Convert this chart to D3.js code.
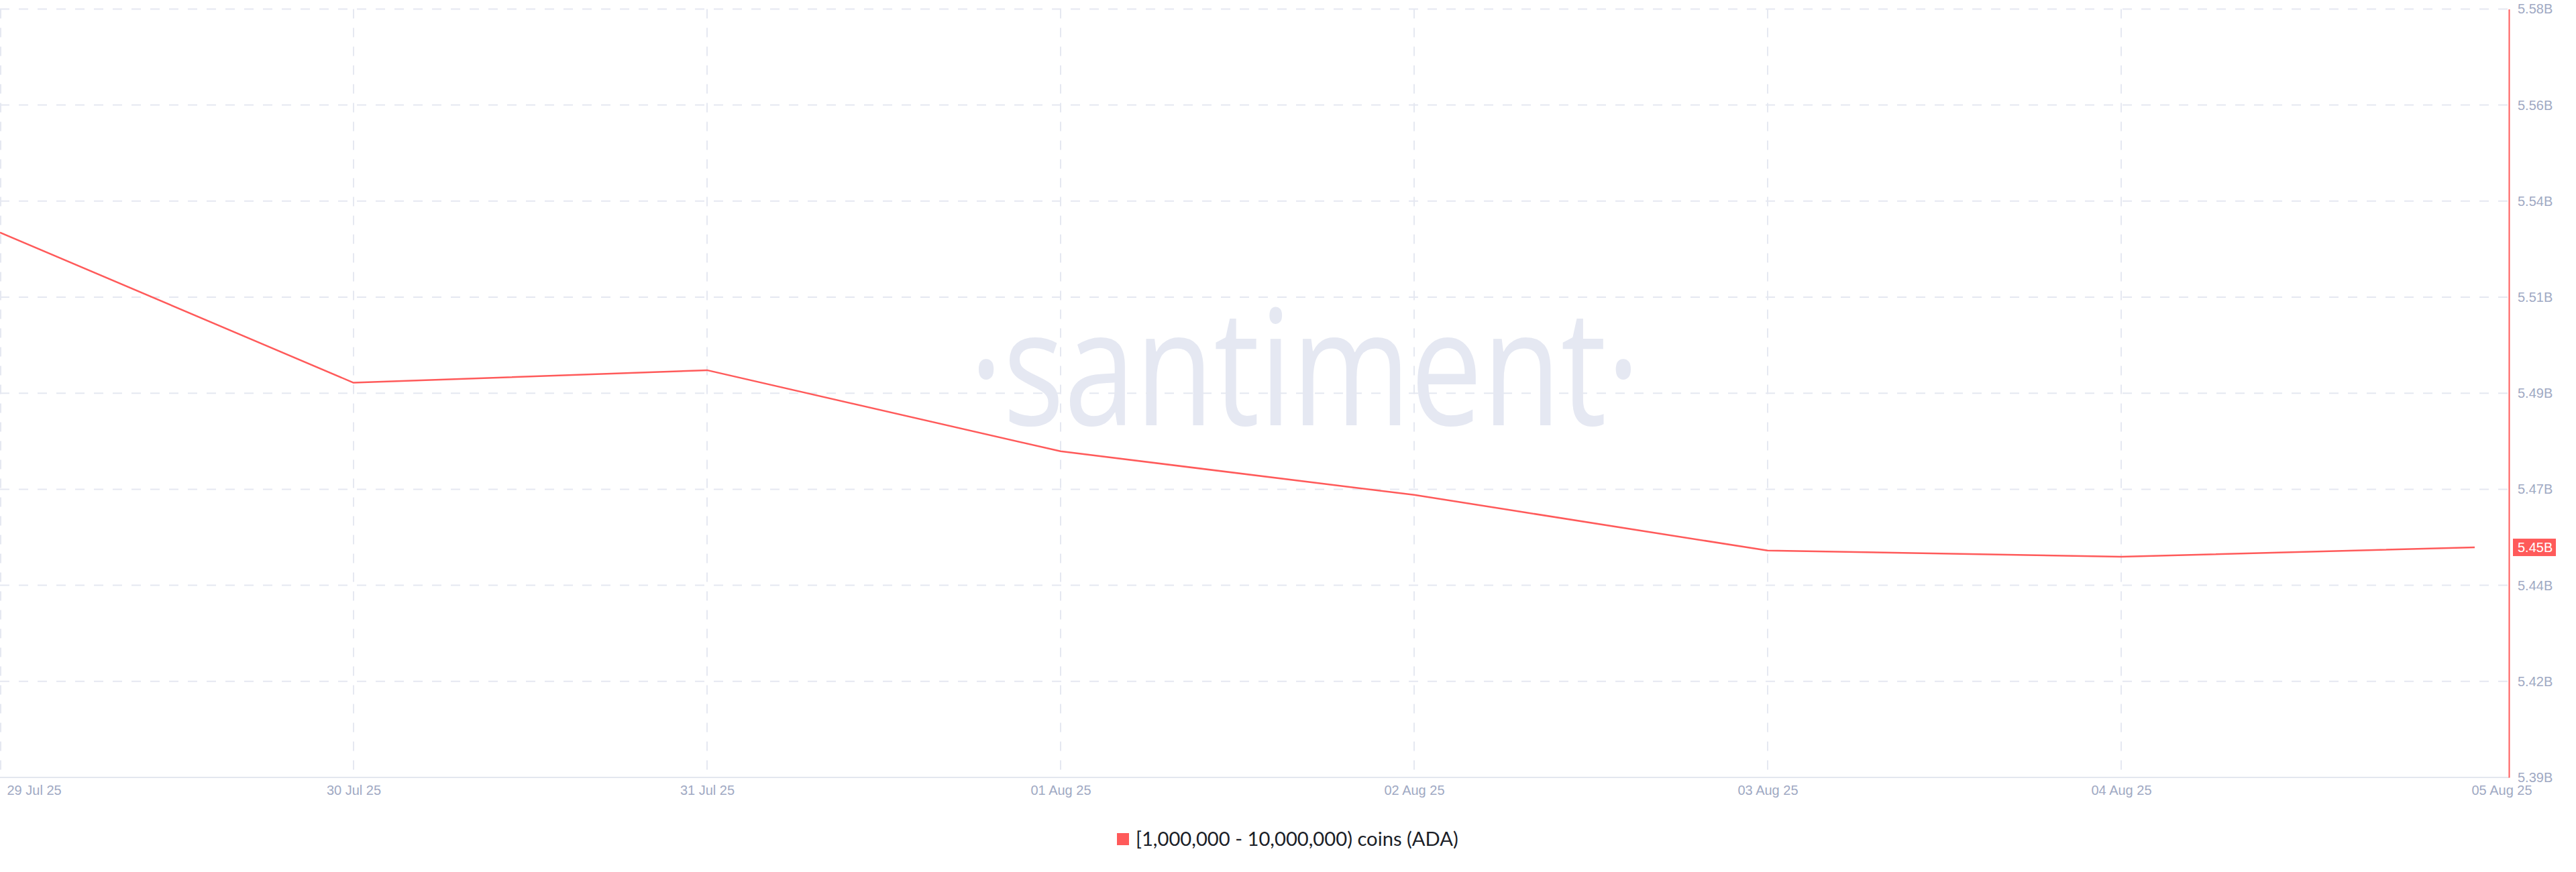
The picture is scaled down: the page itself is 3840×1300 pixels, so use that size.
<!DOCTYPE html>
<html><head><meta charset="utf-8">
<script src="https://cdn.jsdelivr.net/npm/d3@7"></script>
<style>html,body{margin:0;padding:0;background:#fff;} svg{display:block;}</style>
</head><body>
<svg id="chart" width="3840" height="1300"></svg>
<script>
// ---- data ----
const dates = ["2025-07-29","2025-07-30","2025-07-31","2025-08-01","2025-08-02","2025-08-03","2025-08-04","2025-08-05"];
const values = [5.5290, 5.4918, 5.4949, 5.4748, 5.4640, 5.4502, 5.4487, 5.4510]; // billions of ADA
const yTicks = [5.394, 5.4178, 5.4416, 5.4654, 5.4892, 5.513, 5.5368, 5.5606, 5.5844];
const xTickLabels = ["29 Jul 25","30 Jul 25","31 Jul 25","01 Aug 25","02 Aug 25","03 Aug 25","04 Aug 25","05 Aug 25"];
const seriesName = "[1,000,000 - 10,000,000) coins (ADA)";
const watermark = "\u00B7santiment\u00B7";

// ---- setup ----
const svg = d3.select("#chart");
const parse = d3.utcParse("%Y-%m-%d");
const dateObjs = dates.map(parse);
const data = dateObjs.map((d, i) => ({date: d, value: values[i]}));

const plotRight = 3740, plotTop = 13.4, plotBottom = 1159;
const x = d3.scaleUtc().domain([dateObjs[0], dateObjs[dateObjs.length - 1]]).range([0, 3689]);
const y = d3.scaleLinear().domain([yTicks[0], yTicks[yTicks.length - 1]]).range([plotBottom, plotTop]);

const gridColor = "#e5e8f1";
const red = "#ff5a5a";
const labelColor = "#9fa9c3";

// watermark
svg.append("text")
  .attr("x", 1445).attr("y", 634)
  .attr("textLength", 1000).attr("lengthAdjust", "spacingAndGlyphs")
  .attr("font-family", "'Open Sans', sans-serif")
  .attr("font-size", 240)
  .attr("fill", "#e5e8f2")
  .text(watermark);

// horizontal gridlines
svg.append("g").selectAll("line").data(yTicks.slice(1)).join("line")
  .attr("x1", 0).attr("x2", plotRight)
  .attr("y1", d => y(d)).attr("y2", d => y(d))
  .attr("stroke", gridColor).attr("stroke-width", 2)
  .attr("stroke-dasharray", "14,14");

// vertical gridlines
svg.append("g").selectAll("line").data(dateObjs.slice(0, -1)).join("line")
  .attr("x1", d => Math.max(1, x(d))).attr("x2", d => Math.max(1, x(d)))
  .attr("y1", plotTop).attr("y2", plotBottom)
  .attr("stroke", gridColor).attr("stroke-width", 2)
  .attr("stroke-dasharray", "14,14");

// bottom axis base line
svg.append("line")
  .attr("x1", 0).attr("x2", plotRight)
  .attr("y1", plotBottom).attr("y2", plotBottom)
  .attr("stroke", "#e3e7ef").attr("stroke-width", 2);

// x axis labels
const xAxis = d3.axisBottom(x).tickValues(dateObjs)
  .tickFormat((d, i) => xTickLabels[i]).tickSize(0).tickPadding(12);
const gx = svg.append("g").attr("transform", `translate(0,${plotBottom})`).call(xAxis);
gx.select(".domain").remove();
gx.selectAll("text")
  .attr("font-family", "'Liberation Sans', Arial, sans-serif")
  .attr("font-size", 20).attr("fill", labelColor);
const xTexts = gx.selectAll("text").nodes();
d3.select(xTexts[0]).attr("text-anchor", "start").attr("x", 10);
d3.select(xTexts[xTexts.length - 1]).attr("text-anchor", "start").attr("x", -5);

// y axis (right)
const yAxis = d3.axisRight(y).tickValues(yTicks)
  .tickFormat(d => d.toFixed(2) + "B").tickSize(0).tickSizeOuter(0).tickPadding(13);
const gy = svg.append("g").attr("transform", `translate(${plotRight},0)`).call(yAxis);
gy.select(".domain").attr("stroke", red).attr("stroke-width", 2);
gy.selectAll("text")
  .attr("font-family", "'Liberation Sans', Arial, sans-serif")
  .attr("font-size", 20).attr("fill", labelColor);

// line
const line = d3.line().x(d => x(d.date)).y(d => y(d.value));
svg.append("path").datum(data)
  .attr("d", line)
  .attr("fill", "none")
  .attr("stroke", red).attr("stroke-width", 2.5)
  .attr("stroke-linejoin", "round");

// last value tag
const last = data[data.length - 1];
const tagY = y(last.value);
const tag = svg.append("g").attr("transform", `translate(${plotRight + 6},${tagY})`);
tag.append("rect").attr("x", 0).attr("y", -13).attr("width", 64).attr("height", 26).attr("fill", red);
tag.append("text").attr("x", 7).attr("y", 0).attr("dy", "0.35em")
  .attr("font-family", "'Liberation Sans', Arial, sans-serif")
  .attr("font-size", 20).attr("fill", "#fff")
  .text(last.value.toFixed(2) + "B");

// legend
const lg = svg.append("g");
lg.append("rect").attr("x", 1665).attr("y", 1242).attr("width", 18).attr("height", 18).attr("fill", red);
const lt = lg.append("text").attr("x", 1693).attr("y", 1251).attr("dy", "0.35em")
  .attr("font-family", "Lato, 'Open Sans', sans-serif")
  .attr("font-size", 24).attr("fill", "#1b1e27")
  .text(seriesName);
const len = lt.node().getComputedTextLength();
lt.attr("font-size", 24 * 481 / len);
</script>
</body></html>
